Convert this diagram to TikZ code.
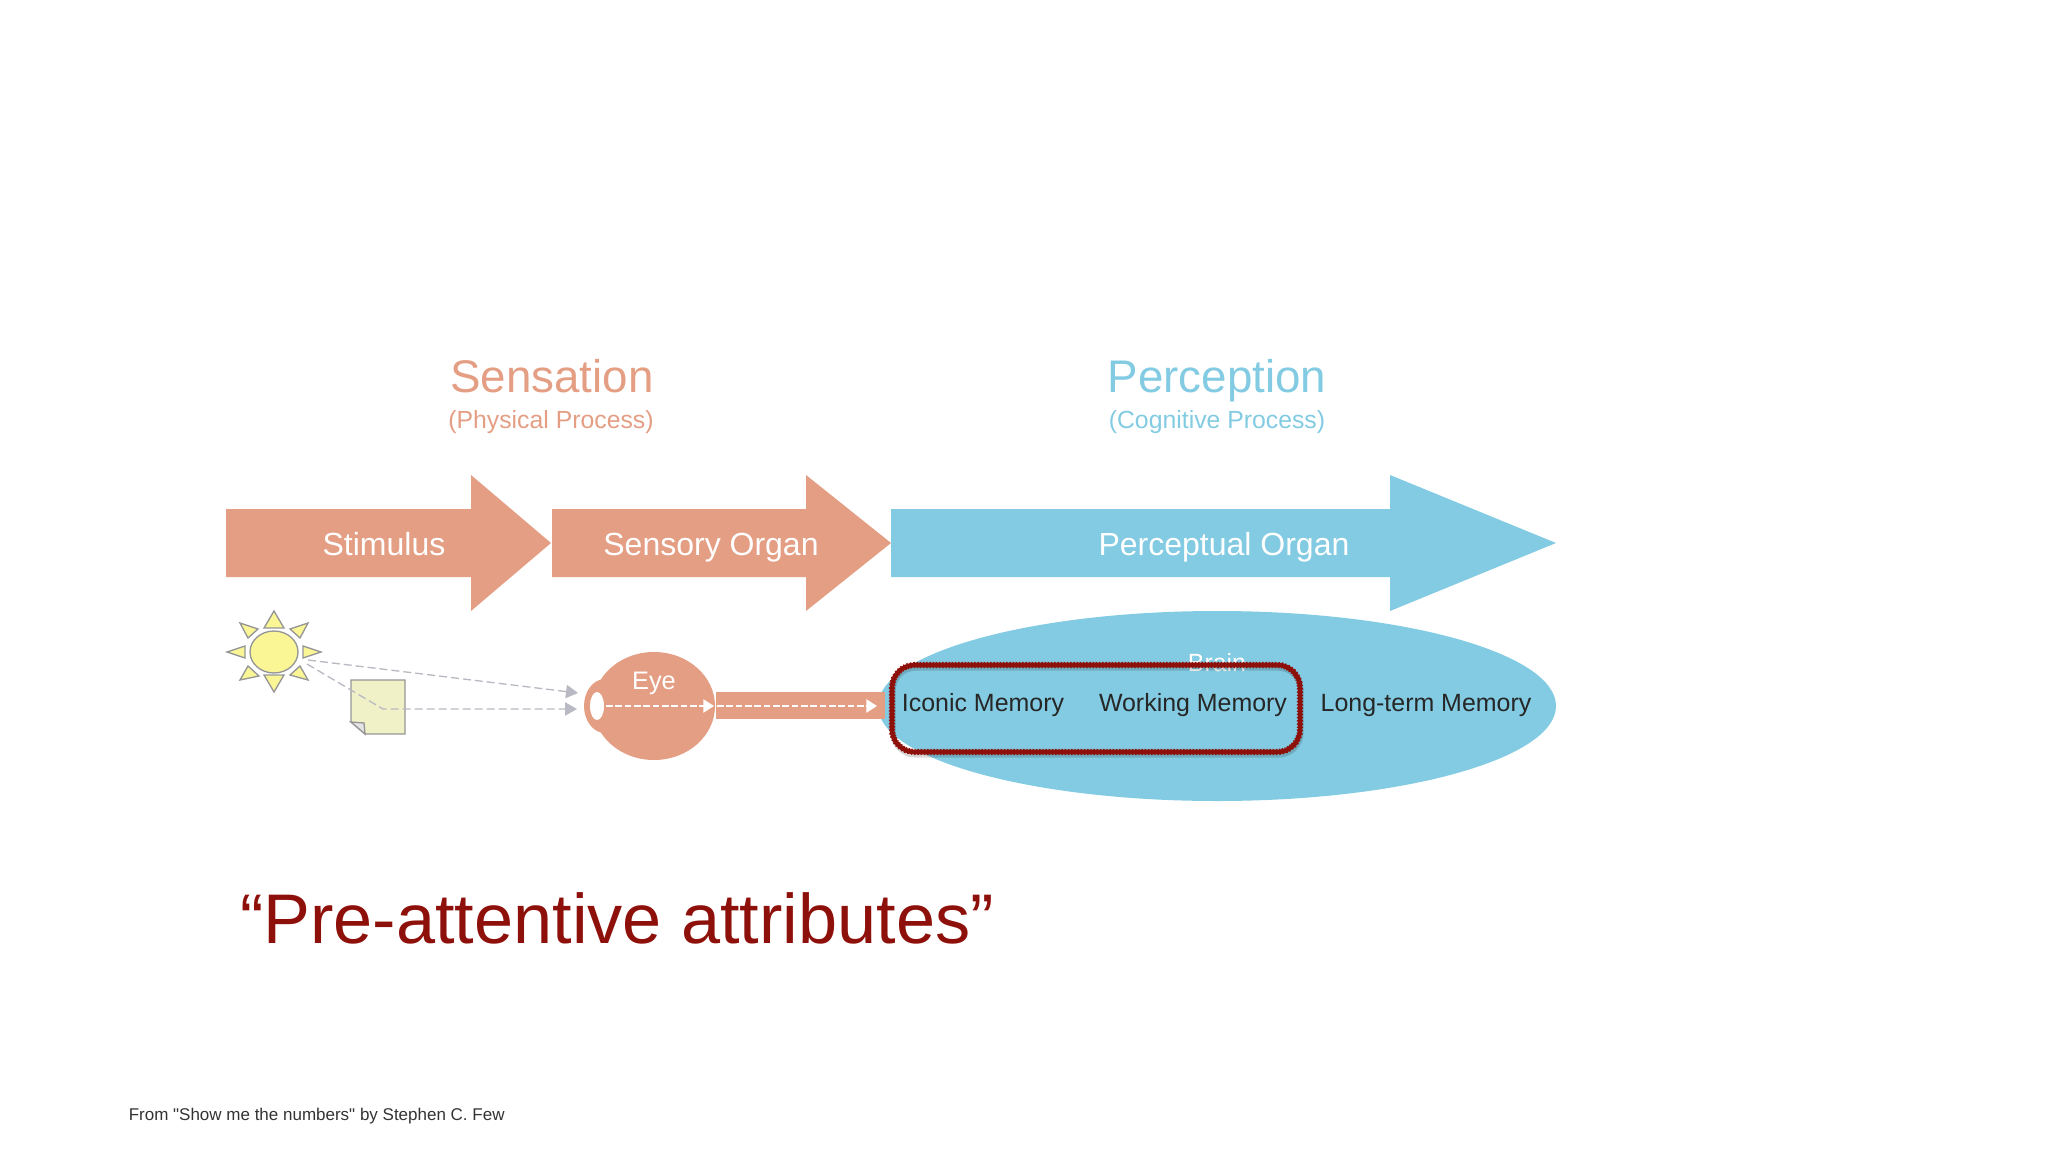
\documentclass[tikz,border=0pt]{standalone}
\usepackage{fontspec}
\setmainfont{Liberation Sans}
\newfontfamily\plainquotes{Liberation Sans}
\usetikzlibrary{arrows.meta}
\definecolor{salmon}{RGB}{228,158,131}
\definecolor{skyblue}{RGB}{130,203,226}
\definecolor{darkred}{RGB}{142,16,10}
\definecolor{sunyellow}{RGB}{250,246,150}
\definecolor{notegreen}{RGB}{241,241,200}
\definecolor{outlinegrey}{RGB}{150,150,150}
\definecolor{raygrey}{RGB}{185,185,195}
\tikzset{
  ray/.style={draw=outlinegrey,line width=1,fill=sunyellow},
  lightpath/.style={draw=raygrey,line width=1,dash pattern=on 6pt off 3pt,-{Triangle[length=9,width=10]}},
  nervepath/.style={draw=white,line width=1,dash pattern=on 5pt off 2pt,-{Triangle[length=8,width=10]}},
  bigtext/.style={anchor=base,inner sep=0,font=\fontsize{34.3}{40}\selectfont},
  subtext/.style={anchor=base,inner sep=0,font=\fontsize{18.6}{23}\selectfont},
  arrowtext/.style={anchor=base,inner sep=0,text=white,font=\fontsize{24}{29}\selectfont},
  memtext/.style={anchor=base,inner sep=0,text=black!85,font=\fontsize{18.7}{24}\selectfont},
  highlight/.style={draw=darkred,rounded corners=17},
}
\begin{document}
\begin{tikzpicture}[x=0.75pt,y=0.75pt,yscale=-1,xscale=1]
\useasboundingbox (0,0) rectangle (2048,1152);

%Block arrows
\fill [salmon] (226,509) -- (471,509) -- (471,475) -- (551,543) -- (471,611) -- (471,577) -- (226,577) -- cycle ;
\fill [salmon] (552,509) -- (806,509) -- (806,475) -- (891,543) -- (806,611) -- (806,577) -- (552,577) -- cycle ;
\fill [skyblue] (891,509) -- (1390,509) -- (1390,475) -- (1556,543) -- (1390,611) -- (1390,577) -- (891,577) -- cycle ;

%Brain
\fill [skyblue] (1217,706) ellipse (339 and 95) ;
%Nerve
\fill [salmon] (716,692) rectangle (885,719) ;
%Eye
\fill [salmon] (605,706) ellipse (21 and 27) ;
\fill [salmon] (654,706) ellipse (61 and 54) ;
\fill [white] (597,706) ellipse (7 and 14) ;

%Sun
\draw [ray] (274,652) ellipse (24 and 21) ;
\draw [ray] (274,611) -- (284,628) -- (264,628) -- cycle ;
\draw [ray] (274,692) -- (284,675) -- (264,675) -- cycle ;
\draw [ray] (227,652) -- (245,646) -- (245,658) -- cycle ;
\draw [ray] (321,652) -- (303,646) -- (303,658) -- cycle ;
\draw [ray] (240,623) -- (258,629) -- (248,638) -- cycle ;
\draw [ray] (308,623) -- (300,638) -- (290,629) -- cycle ;
\draw [ray] (240,680) -- (248,666) -- (259,676) -- cycle ;
\draw [ray] (308,680) -- (290,675) -- (300,666) -- cycle ;

%Note
\draw [draw=outlinegrey,line width=1,fill=notegreen] (351,680) -- (405,680) -- (405,734) -- (365,734) -- (351,722) -- cycle ;
\draw [draw=outlinegrey,line width=1,fill=black!10] (351,722) -- (364,723) -- (365,734) -- cycle ;

%Connector ends
\coordinate (sunA) at (308,660);
\coordinate (sunB) at (307,664);
\coordinate (eyeA) at (578,693);
\coordinate (eyeB) at (577,709);
\coordinate (notespot) at (383,709);
\coordinate (pupil) at (606,706);
\coordinate (eyeback) at (714,706);
\coordinate (nervestart) at (717,706);
\coordinate (nerveend) at (877,706);

\draw [lightpath] (sunA) -- (eyeA) ;
\draw [lightpath] (sunB) -- (notespot) -- (eyeB) ;
\draw [nervepath] (pupil) -- (eyeback) ;
\draw [nervepath] (nervestart) -- (nerveend) ;

% Text Node
\draw (1217,671) node (brain) [anchor=base,inner sep=0,text=white,font=\fontsize{18.7}{24}\selectfont] {Brain};

%Highlight
\draw [black,opacity=0.15,line width=4,rounded corners=17] (893,668) rectangle (1301,755) ;
\draw [highlight,line width=3.4] (892,665) rectangle (1300,752) ;
\draw [highlight,line width=4.6,dash pattern=on 1.1pt off 1.3pt] (892,665) rectangle (1300,752) ;

% Text Node
\draw (552,392) node (sensation) [bigtext,text=salmon] {Sensation};
% Text Node
\draw (551,428) node (physical) [subtext,text=salmon] {(Physical Process)};
% Text Node
\draw (1217,392) node (perception) [bigtext,text=skyblue] {Perception};
% Text Node
\draw (1217,428) node (cognitive) [subtext,text=skyblue] {(Cognitive Process)};
% Text Node
\draw (384,555) node (stimulus) [arrowtext] {Stimulus};
% Text Node
\draw (711,555) node (sensory) [arrowtext] {Sensory Organ};
% Text Node
\draw (1224,555) node (perceptual) [arrowtext] {Perceptual Organ};
% Text Node
\draw (654,689) node (eye) [anchor=base,inner sep=0,text=white,font=\fontsize{19}{24}\selectfont] {Eye};
% Text Node
\draw (983,711) node (iconic) [memtext] {Iconic Memory};
% Text Node
\draw (1193,711) node (working) [memtext] {Working Memory};
% Text Node
\draw (1426,711) node (longterm) [memtext] {Long-term Memory};
% Text Node
\draw (617,943) node (preattentive) [anchor=base,inner sep=0,text=darkred,font=\fontsize{52.7}{64}\selectfont] {“Pre-attentive attributes”};
% Text Node
\draw (128.5,1120) node (source) [anchor=base west,inner sep=0,text=black!80,font=\plainquotes\fontsize{12.75}{16}\selectfont] {From "Show me the numbers" by Stephen C. Few};
\end{tikzpicture}
\end{document}
